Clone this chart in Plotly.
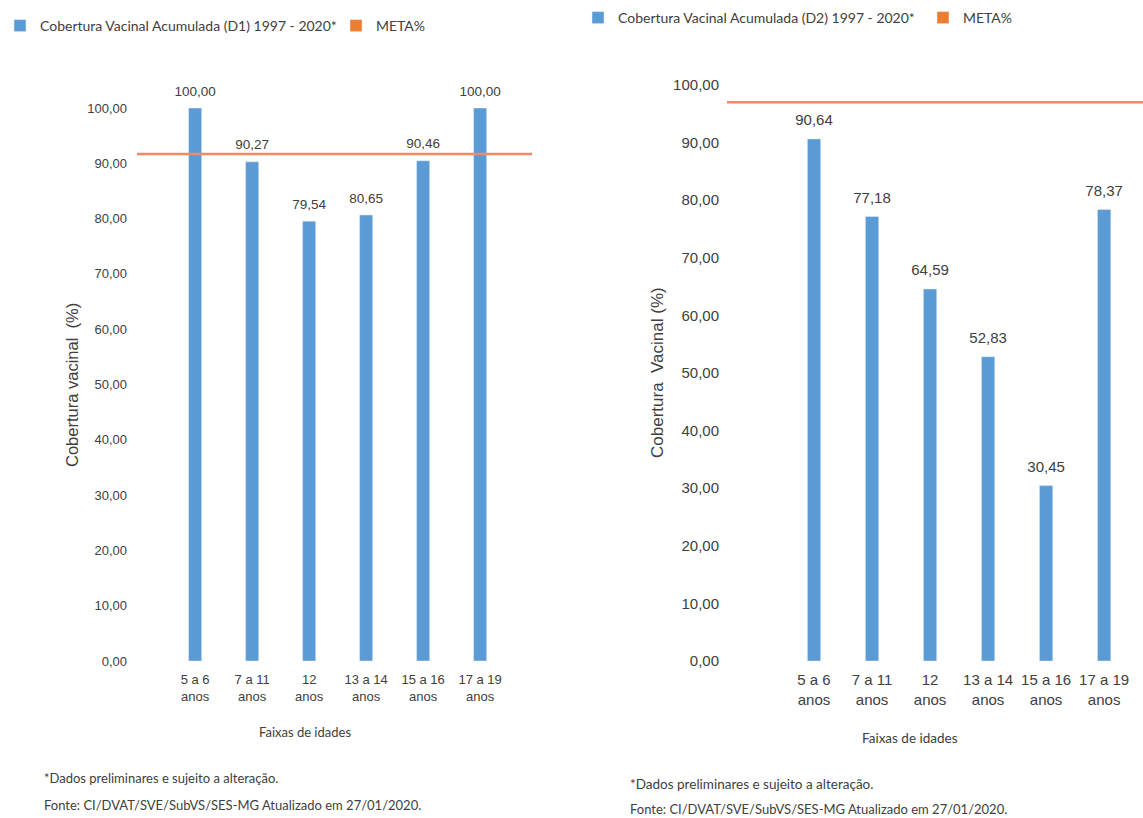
import plotly.graph_objects as go

# ---------------- data ----------------
categorias = ["5 a 6<br>anos", "7 a 11<br>anos", "12<br>anos",
              "13 a 14<br>anos", "15 a 16<br>anos", "17 a 19<br>anos"]
d1_valores = [100.00, 90.27, 79.54, 80.65, 90.46, 100.00]
d2_valores = [90.64, 77.18, 64.59, 52.83, 30.45, 78.37]
meta_d1 = 91.7
meta_d2 = 97.0
nome_d1 = "Cobertura Vacinal Acumulada (D1) 1997 - 2020*"
nome_d2 = "Cobertura Vacinal Acumulada (D2) 1997 - 2020*"
nome_meta = "META%"
y_ticks = [0, 10, 20, 30, 40, 50, 60, 70, 80, 90, 100]

# ---------------- style ----------------
AZUL = "#5B9BD5"
LARANJA = "#ED7D31"
LINHA_META = "#F4896A"
TXT = "#404040"
ARIAL = "Liberation Sans, Arial, sans-serif"
MYRIAD = "Lato, Open Sans, sans-serif"
W, H = 1143, 818

fig = go.Figure()

# left chart
fig.add_trace(go.Bar(x=categorias, y=d1_valores, name=nome_d1, marker_color=AZUL,
                     width=0.23, xaxis="x", yaxis="y", legend="legend", hoverinfo="x+y"))
fig.add_trace(go.Scatter(x=categorias, y=d1_valores, mode="markers+text",
                         text=[f"{v:.2f}".replace(".", ",") for v in d1_valores],
                         textposition="top center", marker=dict(size=13, opacity=0),
                         textfont=dict(family=ARIAL, size=13.5, color=TXT),
                         showlegend=False, hoverinfo="skip", xaxis="x", yaxis="y", cliponaxis=False))
fig.add_trace(go.Bar(x=[categorias[0]], y=[None], name=nome_meta, marker_color=LARANJA,
                     xaxis="x", yaxis="y", legend="legend"))

# right chart
fig.add_trace(go.Bar(x=categorias, y=d2_valores, name=nome_d2, marker_color=AZUL,
                     width=0.23, xaxis="x2", yaxis="y2", legend="legend2", hoverinfo="x+y"))
fig.add_trace(go.Scatter(x=categorias, y=d2_valores, mode="markers+text",
                         text=[f"{v:.2f}".replace(".", ",") for v in d2_valores],
                         textposition="top center", marker=dict(size=14, opacity=0),
                         textfont=dict(family=ARIAL, size=15, color=TXT),
                         showlegend=False, hoverinfo="skip", xaxis="x2", yaxis="y2", cliponaxis=False))
fig.add_trace(go.Bar(x=[categorias[0]], y=[None], name=nome_meta, marker_color=LARANJA,
                     xaxis="x2", yaxis="y2", legend="legend2"))

# goal lines
fig.add_shape(type="line", xref="x domain", yref="y", x0=0, x1=1, y0=meta_d1, y1=meta_d1,
              line=dict(color=LINHA_META, width=2.5), layer="above")
fig.add_shape(type="line", xref="x2 domain", yref="y2", x0=0, x1=1, y0=meta_d2, y1=meta_d2,
              line=dict(color=LINHA_META, width=2.5), layer="above")

ytick_text = [f"{v:.2f}".replace(".", ",") for v in y_ticks]

common_x = dict(type="category", showline=False, showgrid=False, zeroline=False, ticks="",
                tickangle=0, fixedrange=True)
common_y = dict(range=[0, 100], showline=False, showgrid=False, zeroline=False, ticks="",
                tickvals=y_ticks, ticktext=ytick_text, fixedrange=True)


def nota(texto, x, y, size, family=MYRIAD, angle=0, xanchor="center"):
    return dict(text=texto, xref="paper", yref="paper", x=x / W, y=1 - y / H,
                xanchor=xanchor, yanchor="middle", textangle=angle, showarrow=False,
                font=dict(family=family, size=size, color=TXT))


fig.update_layout(
    width=W, height=H, margin=dict(l=0, r=0, t=0, b=0, autoexpand=False),
    paper_bgcolor="white", plot_bgcolor="white", barmode="overlay",
    xaxis=dict(**common_x, domain=[137 / W, 532 / W], range=[-1.02, 5.91], anchor="y",
               ticklabelstandoff=9, tickfont=dict(family=ARIAL, size=13, color=TXT)),
    yaxis=dict(**common_y, domain=[(H - 661) / H, (H - 108) / H], anchor="x",
               ticklabelstandoff=9, tickfont=dict(family=ARIAL, size=13, color=TXT)),
    xaxis2=dict(**common_x, domain=[727 / W, 1.0], range=[-1.5, 5.67], anchor="y2",
                ticklabelstandoff=8, tickfont=dict(family=ARIAL, size=15, color=TXT)),
    yaxis2=dict(**common_y, domain=[(H - 661) / H, (H - 85) / H], anchor="x2",
                ticklabelstandoff=7, tickfont=dict(family=ARIAL, size=15, color=TXT)),
    legend=dict(orientation="h", x=0.0, xanchor="left", y=1 - 26 / H, yanchor="middle",
                font=dict(family=MYRIAD, size=14, color=TXT), entrywidth=291,
                entrywidthmode="pixels", bgcolor="rgba(0,0,0,0)"),
    legend2=dict(orientation="h", x=578 / W, xanchor="left", y=1 - 18 / H, yanchor="middle",
                 font=dict(family=MYRIAD, size=14, color=TXT), entrywidth=300,
                 entrywidthmode="pixels", bgcolor="rgba(0,0,0,0)"),
    annotations=[
        nota("Cobertura vacinal  (%)", 72, 385, 16.5, family=ARIAL, angle=-90),
        nota("Cobertura  Vacinal (%)", 657, 373, 17, family=ARIAL, angle=-90),
        nota("Faixas de idades", 305, 732, 13),
        nota("Faixas de idades", 910, 738, 13.5),
        nota("*Dados preliminares e sujeito a alteração.", 42, 778, 13, xanchor="left"),
        nota("Fonte: CI/DVAT/SVE/SubVS/SES-MG Atualizado em 27/01/2020.", 42, 805, 13,
             xanchor="left"),
        nota("*Dados preliminares e sujeito a alteração.", 628, 784, 13.5, xanchor="left"),
        nota("Fonte: CI/DVAT/SVE/SubVS/SES-MG Atualizado em 27/01/2020.", 628, 809, 13,
             xanchor="left"),
    ],
)

fig.write_html("out.html", post_script="document.body.style.margin='0';",
               config={"displayModeBar": False})
